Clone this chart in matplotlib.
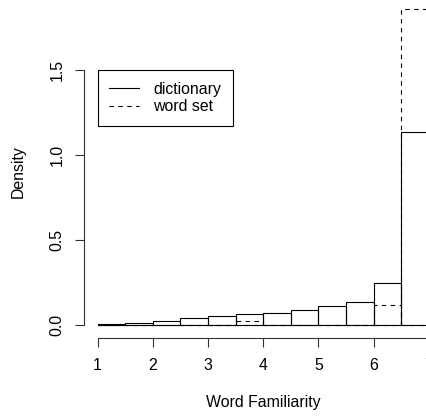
import matplotlib
matplotlib.use("Agg")
import matplotlib.pyplot as plt
from matplotlib.lines import Line2D

plt.rcParams['font.family'] = ['Liberation Sans', 'DejaVu Sans']

# histogram bins (left edges, width 0.5) and densities
bin_left = [1.0, 1.5, 2.0, 2.5, 3.0, 3.5, 4.0, 4.5, 5.0, 5.5, 6.0, 6.5]
bin_width = 0.5
dictionary_density = [0.008, 0.016, 0.024, 0.044, 0.054, 0.066,
                      0.071, 0.087, 0.112, 0.136, 0.247, 1.136]
word_set_density = [0.0, 0.0, 0.0, 0.0, 0.0, 0.024,
                    0.0, 0.0, 0.0, 0.0, 0.12, 1.856]
x_ticks = [1, 2, 3, 4, 5, 6, 7]
y_ticks = [0.0, 0.5, 1.0, 1.5]
legend_labels = ["dictionary", "word set"]

W, H = 426, 417
fig = plt.figure(figsize=(W / 100, H / 100), dpi=100)

# plot region (R style, 4% padding), partly outside the canvas on the right/top
left_px, right_px = 84.3, 442.0
top_px, bottom_px = -3.4, 337.9
ax = fig.add_axes([left_px / W, 1 - bottom_px / H,
                   (right_px - left_px) / W, (bottom_px - top_px) / H])

xmin, xmax = bin_left[0], bin_left[-1] + bin_width
ymax = max(max(dictionary_density), max(word_set_density))
ax.set_xlim(xmin - 0.04 * (xmax - xmin), xmax + 0.04 * (xmax - xmin))
ax.set_ylim(-0.04 * ymax, ymax * 1.04)

lw = 0.8
ax.bar(bin_left, dictionary_density, width=bin_width, align='edge',
       fill=False, edgecolor='black', linewidth=lw, clip_on=False)
ax.bar(bin_left, word_set_density, width=bin_width, align='edge',
       fill=False, edgecolor='black', linewidth=lw, linestyle=(0, (4, 4)),
       clip_on=False)

for s in ['top', 'right']:
    ax.spines[s].set_visible(False)
ax.spines['left'].set_bounds(y_ticks[0], y_ticks[-1])
ax.spines['bottom'].set_bounds(x_ticks[0], x_ticks[-1])
for s in ['left', 'bottom']:
    ax.spines[s].set_linewidth(lw)
    ax.spines[s].set_color('#333333')

fs = 11.4
ax.set_xticks(x_ticks)
ax.set_xticklabels([str(t) for t in x_ticks])
ax.set_yticks(y_ticks)
ax.set_yticklabels([f"{t:.1f}" for t in y_ticks])
ax.tick_params(axis='both', direction='out', length=6.3, width=lw,
               color='#333333', labelsize=fs)
ax.tick_params(axis='x', pad=8)
ax.tick_params(axis='y', pad=8, labelrotation=90)
for lab in ax.get_yticklabels():
    lab.set_va('center')

fig.text(262.9 / W, 1 - 403 / H, "Word Familiarity", ha='center', va='center',
         fontsize=fs)
fig.text(18 / W, 1 - 172 / H, "Density", ha='center', va='center',
         rotation=90, fontsize=fs)

handles = [Line2D([], [], color='black', lw=lw),
           Line2D([], [], color='black', lw=lw, linestyle=(0, (4, 4)))]
leg = ax.legend(handles, legend_labels, loc='upper left',
                bbox_to_anchor=(1.0, 1.5), bbox_transform=ax.transData,
                borderaxespad=0, fontsize=fs, handlelength=1.85,
                handletextpad=0.9, borderpad=0.75, labelspacing=0.15,
                fancybox=False, framealpha=1)
leg.get_frame().set_edgecolor('black')
leg.get_frame().set_linewidth(lw)

fig.savefig("out.png", dpi=100)
